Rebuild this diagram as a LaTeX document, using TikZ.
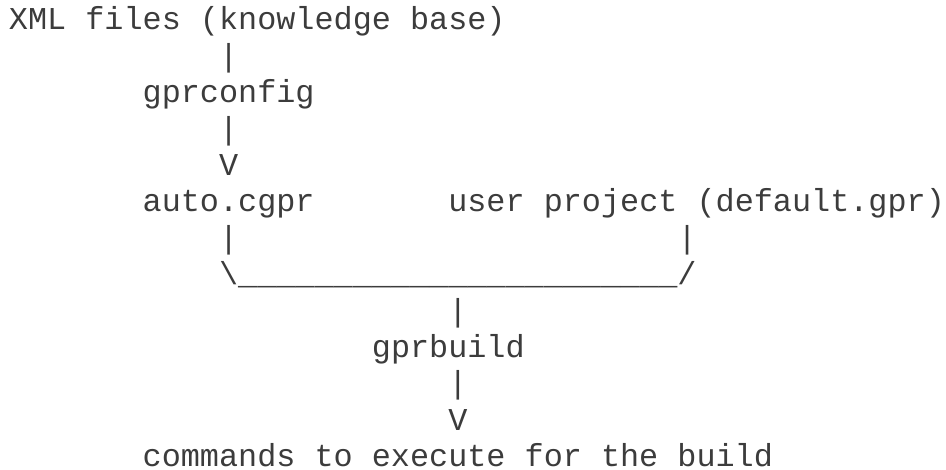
\documentclass[tikz,border=0pt]{standalone}
\usepackage{fontspec}
\setmonofont{Liberation Mono}
\definecolor{ink}{HTML}{3C3C3C}
\begin{document}
\begin{tikzpicture}[x=19.1pt,y=-36.4pt,
  txt/.style={anchor=base west,inner sep=0pt,outer sep=0pt,text=ink,
    font=\ttfamily\fontsize{31.83pt}{36pt}\selectfont}]
\useasboundingbox (-9pt,30pt) rectangle (937pt,-440pt);
% one column = one character, one row = one text line
\node[txt] (xml) at (0,0) {XML files (knowledge base)};
\node[txt] (bar1) at (11,1) {|};
\node[txt] (gprconfig) at (7,2) {gprconfig};
\node[txt] (bar2) at (11,3) {|};
\node[txt] (tipA) at (11,4) {V};
\node[txt] (autocgpr) at (7,5) {auto.cgpr};
\node[txt] (userprj) at (23,5) {user project (default.gpr)};
\node[txt] (bar3) at (11,6) {|};
\node[txt] (bar4) at (35,6) {|};
\node[txt] (join) at (11,7) {\textbackslash\_\_\_\_\_\_\_\_\_\_\_\_\_\_\_\_\_\_\_\_\_\_\_/};
\node[txt] (bar5) at (23,8) {|};
\node[txt] (gprbuild) at (19,9) {gprbuild};
\node[txt] (bar6) at (23,10) {|};
\node[txt] (tipB) at (23,11) {V};
\node[txt,text depth=0pt] (commands) at (7,12) {commands to execute for the build};
\end{tikzpicture}
\end{document}
